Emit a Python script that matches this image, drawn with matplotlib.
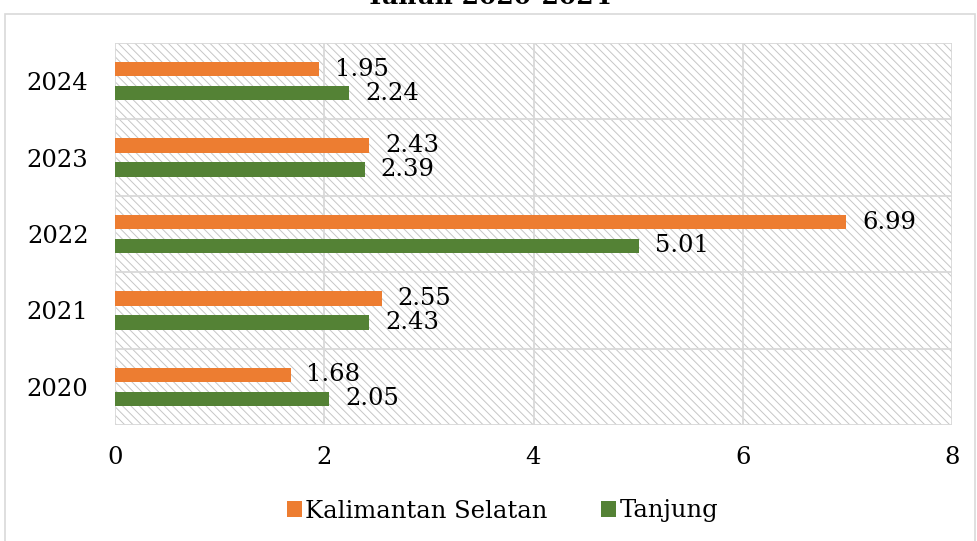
import matplotlib.pyplot as plt
import matplotlib.patches as patches
import numpy as np

# Data
years = ['2020', '2021', '2022', '2023', '2024']
kalsel = [1.68, 2.55, 6.99, 2.43, 1.95]
tanjung = [2.05, 2.43, 5.01, 2.39, 2.24]

orange = '#ED7D31'
green = '#548235'
grid_col = '#d9d9d9'

plt.rcParams['font.family'] = ['DejaVu Serif']
plt.rcParams['hatch.linewidth'] = 0.7

fig = plt.figure(figsize=(9.78, 5.41), dpi=100)
ax = fig.add_axes([115 / 978, 1 - 425 / 541, (952 - 115) / 978, (425 - 43) / 541])

# outer chart frame (bottom runs off the picture)
frame = patches.Rectangle((5 / 978, -0.1), 970 / 978, 1.1 - 14 / 541,
                          transform=fig.transFigure, fill=False,
                          edgecolor=grid_col, linewidth=1.2)
fig.patches.append(frame)

# title, mostly cut off at the top like in the original
fig.text(0.5, 1.005, 'Tahun 2020-2024', ha='center', va='center',
         fontsize=18, fontweight='bold')

ax.set_xlim(0, 8)
ax.set_ylim(-0.5, 4.5)

# hatched plot area
bg = patches.Rectangle((0, -0.5), 8, 5, facecolor='white', edgecolor='#c6c6c6',
                       linewidth=0, hatch='\\\\\\\\', zorder=0)
ax.add_patch(bg)

# gridlines
for xv in range(0, 9, 2):
    ax.axvline(xv, color=grid_col, linewidth=1.3, zorder=1)
for yv in np.arange(-0.5, 5, 1):
    ax.axhline(yv, color=grid_col, linewidth=1.3, zorder=1)

y = np.arange(len(years))
off = 0.157
h = 0.19
ax.barh(y + off, kalsel, height=h, color=orange, zorder=3, label='Kalimantan Selatan')
ax.barh(y - off, tanjung, height=h, color=green, zorder=3, label='Tanjung')

for yi, v in zip(y, kalsel):
    ax.text(v + 0.15, yi + off, f'{v:.2f}', va='center', ha='left', fontsize=17.5, zorder=4)
for yi, v in zip(y, tanjung):
    ax.text(v + 0.15, yi - off, f'{v:.2f}', va='center', ha='left', fontsize=17.5, zorder=4)

ax.set_yticks(y)
ax.set_yticklabels(years)
ax.set_xticks(range(0, 9, 2))
ax.tick_params(axis='both', length=0, labelsize=17.5)
ax.tick_params(axis='y', pad=19)
ax.tick_params(axis='x', pad=15)
for s in ax.spines.values():
    s.set_visible(False)

leg = fig.legend(loc='center', bbox_to_anchor=(0.514, 1 - 511 / 541), ncol=2,
                 frameon=False, fontsize=17.5, handlelength=0.6, handleheight=0.6,
                 handletextpad=0.15, columnspacing=2.2)

fig.savefig('out.png', dpi=100)
